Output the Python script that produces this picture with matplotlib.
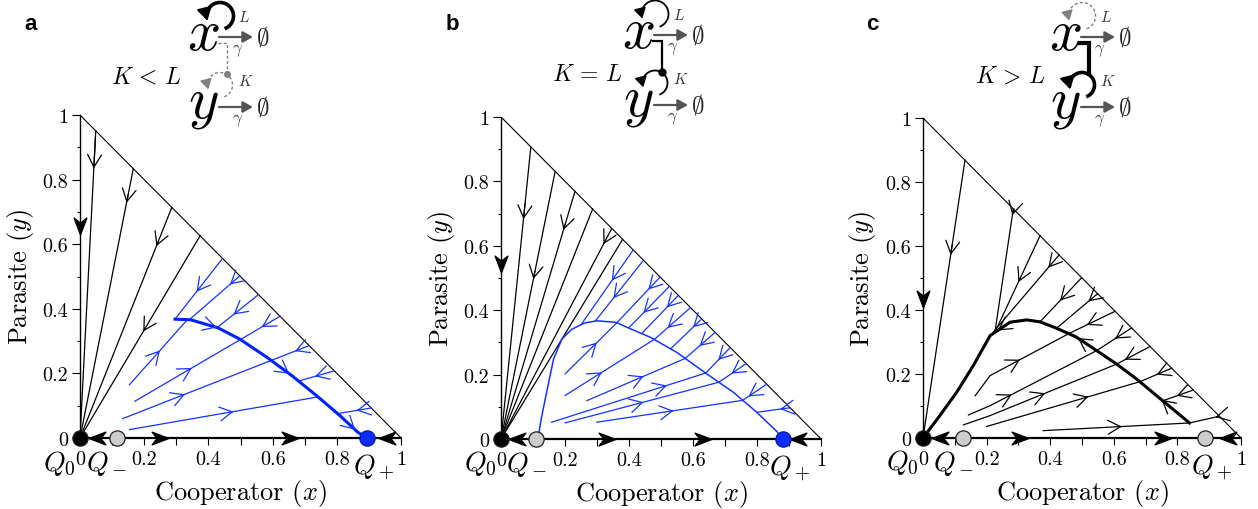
import numpy as np
import matplotlib.pyplot as plt
from matplotlib.path import Path

plt.rcParams['font.family'] = 'cmr10'
plt.rcParams['mathtext.fontset'] = 'cm'
plt.rcParams['axes.formatter.use_mathtext'] = True

# ---------------- values ----------------
tick_vals = [0, 0.2, 0.4, 0.6, 0.8, 1]
tick_labels = ['0', '0.2', '0.4', '0.6', '0.8', '1']

# fixed points on the x axis: Q0, Q-, Q+
a_fixed = [0.0, 0.115, 0.894]
b_fixed = [0.0, 0.110, 0.880]
c_fixed = [0.0, 0.127, 0.887]

# flow arrows along the x axis (position, direction) and on the y axis
a_axis_arrows = [(0.052, -1), (0.249, 1), (0.654, 1), (0.955, -1)]
b_axis_arrows = [(0.049, -1), (0.330, 1), (0.632, 1), (0.929, -1)]
c_axis_arrows = [(0.053, -1), (0.305, 1), (0.756, 1), (0.960, -1)]
a_y_arrow = 0.657
b_y_arrow = 0.543
c_y_arrow = 0.434

# panel a: black trajectories into Q0
a_black = [[(0.049, 0.951), (0, 0)], [(0.166, 0.834), (0, 0)],
           [(0.286, 0.714), (0, 0)], [(0.374, 0.626), (0, 0)]]
a_black_tips = [0.043, 0.145, 0.238, 0.197]
# panel a: blue trajectories onto the slow curve
a_blue = [[(0.444, 0.556), (0.296, 0.368)], [(0.498, 0.502), (0.340, 0.366)],
          [(0.556, 0.444), (0.426, 0.341)], [(0.623, 0.377), (0.500, 0.305)],
          [(0.714, 0.286), (0.595, 0.240)], [(0.792, 0.208), (0.680, 0.176)],
          [(0.907, 0.093), (0.800, 0.075)],
          [(0.154, 0.165), (0.334, 0.366)], [(0.171, 0.114), (0.500, 0.305)],
          [(0.133, 0.060), (0.595, 0.240)], [(0.154, 0.026), (0.740, 0.127)]]
a_blue_tips = [0.363, 0.467, 0.478, 0.566, 0.670, 0.732, 0.862,
               0.249, 0.348, 0.327, 0.478]
a_curve_x = [0.296, 0.345, 0.430, 0.498, 0.582, 0.660, 0.737, 0.810, 0.865, 0.894]
a_curve_y = [0.368, 0.366, 0.341, 0.306, 0.250, 0.193, 0.131, 0.069, 0.018, 0.0]
a_curve_tips = [0.426, 0.652, 0.857]

# panel b
b_black = [[(0.093, 0.907), (0, 0)], [(0.169, 0.831), (0, 0)],
           [(0.231, 0.769), (0, 0)], [(0.286, 0.714), (0, 0)],
           [(0.346, 0.654), (0, 0)], [(0.380, 0.620), (0, 0)]]
b_black_tips = [0.070, 0.101, 0.195, None, 0.320, None]
b_blue = [[(0.413, 0.587), (0.250, 0.355)], [(0.445, 0.555), (0.295, 0.367)],
          [(0.497, 0.503), (0.361, 0.360)], [(0.526, 0.474), (0.400, 0.346)],
          [(0.554, 0.446), (0.440, 0.328)], [(0.592, 0.408), (0.480, 0.310)],
          [(0.627, 0.373), (0.530, 0.280)], [(0.669, 0.331), (0.575, 0.250)],
          [(0.716, 0.284), (0.640, 0.205)], [(0.766, 0.234), (0.680, 0.176)],
          [(0.830, 0.170), (0.755, 0.120)], [(0.903, 0.097), (0.800, 0.083)],
          [(0.200, 0.202), (0.361, 0.360)], [(0.200, 0.135), (0.480, 0.310)],
          [(0.268, 0.119), (0.575, 0.250)], [(0.158, 0.052), (0.640, 0.205)],
          [(0.200, 0.050), (0.680, 0.176)], [(0.299, 0.052), (0.755, 0.120)]]
b_blue_tips = [0.346, 0.351, 0.460, 0.445, 0.518, 0.520, 0.600, 0.620,
               0.679, 0.720, 0.773, 0.872,
               0.299, 0.315, 0.445, 0.518, 0.445, 0.539]
b_curve_x = [0.110, 0.117, 0.125, 0.138, 0.164, 0.190, 0.220, 0.260, 0.300,
             0.360, 0.393, 0.466, 0.549, 0.643, 0.726, 0.799, 0.862, 0.880]
b_curve_y = [0.0, 0.010, 0.060, 0.124, 0.248, 0.310, 0.340, 0.360, 0.367,
             0.362, 0.347, 0.316, 0.269, 0.202, 0.145, 0.083, 0.023, 0.0]

# panel c
c_black = [[(0.132, 0.868), (0, 0)], [(0.284, 0.716), (0.226, 0.330)],
           [(0.368, 0.632), (0.226, 0.330)], [(0.428, 0.572), (0.222, 0.332)],
           [(0.499, 0.501), (0.368, 0.363)], [(0.549, 0.451), (0.420, 0.343)],
           [(0.604, 0.396), (0.458, 0.326)], [(0.656, 0.344), (0.546, 0.273)],
           [(0.714, 0.286), (0.609, 0.231)], [(0.782, 0.218), (0.682, 0.176)],
           [(0.850, 0.150), (0.756, 0.117)], [(0.932, 0.068), (0.838, 0.047)],
           [(0.164, 0.132), (0.211, 0.195), (0.458, 0.326)],
           [(0.143, 0.072), (0.211, 0.101), (0.546, 0.273)],
           [(0.127, 0.041), (0.211, 0.070), (0.609, 0.231)],
           [(0.200, 0.036), (0.682, 0.176)],
           [(0.378, 0.023), (0.838, 0.047)]]
c_black_tips = [0.087, 0.281, 0.300, 0.394, 0.431, 0.520, 0.515, 0.604,
                0.635, 0.735, 0.798, 0.920,
                0.305, 0.279, 0.384, 0.520, 0.625]
c_curve_x = [0.0, 0.053, 0.106, 0.158, 0.211, 0.274, 0.326, 0.368, 0.420,
             0.483, 0.546, 0.609, 0.672, 0.735, 0.798, 0.838]
c_curve_y = [0.0, 0.070, 0.143, 0.226, 0.320, 0.362, 0.369, 0.363, 0.343,
             0.315, 0.273, 0.231, 0.184, 0.132, 0.080, 0.047]
c_curve_tips = [0.235, 0.487, 0.750]

BLUE = '#1433ff'
DOT_BLUE = '#0b2cff'
GREY = '#cccccc'


def chevron(ax, xs, ys, xt, color, lw=0.9):
    # open arrow head at x = xt, pointing toward the last point of the line
    xs = np.asarray(xs, float)
    ys = np.asarray(ys, float)
    order = np.argsort(xs)
    sgn = np.sign(xs[-1] - xs[0])
    yt = np.interp(xt, xs[order], ys[order])
    xb = xt - sgn * 0.005
    yb = np.interp(xb, xs[order], ys[order])
    ax.annotate('', xy=(xt, yt), xytext=(xb, yb), annotation_clip=False,
                arrowprops=dict(arrowstyle='->,head_length=0.9,head_width=0.5',
                                color=color, lw=lw, shrinkA=0, shrinkB=0))


def stealth(angle):
    v = np.array([[0.5, 0], [-0.5, 0.38], [-0.2, 0], [-0.5, -0.38], [0.5, 0]])
    c, s = np.cos(np.radians(angle)), np.sin(np.radians(angle))
    v = v @ np.array([[c, s], [-s, c]])
    return Path(v, [Path.MOVETO, Path.LINETO, Path.LINETO, Path.LINETO, Path.CLOSEPOLY])


def draw_lines(ax, lines, tips, color, lw=0.9):
    for pts, xt in zip(lines, tips):
        xs, ys = zip(*pts)
        ax.plot(xs, ys, color=color, lw=lw, zorder=2)
        if xt is not None:
            chevron(ax, xs, ys, xt, color, lw)


def frame(ax, fixed, fixed_colors, axis_arrows, y_arrow):
    ax.set_xlim(0, 1)
    ax.set_ylim(0, 1)
    ax.spines['top'].set_visible(False)
    ax.spines['right'].set_visible(False)
    ax.spines['left'].set_linewidth(1.0)
    ax.spines['bottom'].set_linewidth(1.6)
    ax.plot([0, 1], [1, 0], color='k', lw=0.8, zorder=2)
    ax.set_xticks(tick_vals)
    ax.set_xticklabels(tick_labels)
    ax.set_yticks(tick_vals)
    ax.set_yticklabels(tick_labels)
    ax.set_xticks(np.arange(0.1, 1, 0.2), minor=True)
    ax.set_yticks(np.arange(0.1, 1, 0.2), minor=True)
    ax.tick_params(axis='both', which='both', direction='out', labelsize=14.5, width=0.8)
    ax.tick_params(axis='x', which='both', length=5, pad=4)
    ax.tick_params(axis='y', which='major', length=5.5, pad=3)
    ax.tick_params(axis='y', which='minor', length=2.5)
    ax.set_xlabel('Cooperator $(x)$', fontsize=19, labelpad=6)
    ax.set_ylabel('Parasite $(y)$', fontsize=19, labelpad=5)

    for xp, d in axis_arrows:
        ax.plot(xp, 0, marker=stealth(0 if d > 0 else 180), ms=12, color='k',
                clip_on=False, zorder=5)
    ax.plot(0, y_arrow, marker=stealth(-90), ms=12, color='k', clip_on=False, zorder=5)

    for xp, fc in zip(fixed, fixed_colors):
        ec = '#202020' if fc != DOT_BLUE else '#0a1a90'
        ax.plot(xp, 0, 'o', ms=11, mfc=fc, mec=ec, mew=0.9, clip_on=False, zorder=6)
    ax.text(-0.065, -0.075, '$Q_0$', fontsize=20, ha='center', va='center')
    ax.text(fixed[1] - 0.032, -0.075, '$Q_-$', fontsize=20, ha='center', va='center')
    ax.text(fixed[2] + 0.022, -0.09, '$Q_+$', fontsize=20, ha='center', va='center')


fig = plt.figure(figsize=(12.58, 5.10), dpi=100)
ax_a = fig.add_axes([0.0636, 0.1392, 0.2552, 0.6333])
ax_b = fig.add_axes([0.3983, 0.1373, 0.2544, 0.6314])
ax_c = fig.add_axes([0.7337, 0.1392, 0.2528, 0.6275])

# panel a
frame(ax_a, a_fixed, ['k', GREY, DOT_BLUE], a_axis_arrows, a_y_arrow)
draw_lines(ax_a, a_black, a_black_tips, 'k')
draw_lines(ax_a, a_blue, a_blue_tips, BLUE)
ax_a.plot(a_curve_x, a_curve_y, color='#0020ff', lw=2.2, zorder=3)
for xt in a_curve_tips:
    chevron(ax_a, a_curve_x, a_curve_y, xt, BLUE)

# panel b
frame(ax_b, b_fixed, ['k', GREY, DOT_BLUE], b_axis_arrows, b_y_arrow)
draw_lines(ax_b, b_black, b_black_tips, 'k')
draw_lines(ax_b, b_blue, b_blue_tips, BLUE)
ax_b.plot(b_curve_x, b_curve_y, color=BLUE, lw=1.1, zorder=3)

# panel c
frame(ax_c, c_fixed, ['k', GREY, GREY], c_axis_arrows, c_y_arrow)
draw_lines(ax_c, c_black, c_black_tips, 'k')
ax_c.plot(c_curve_x, c_curve_y, color='k', lw=2.2, zorder=3)
for xt in c_curve_tips:
    chevron(ax_c, c_curve_x[::-1], c_curve_y[::-1], xt, 'k')

# ---------------- network sketches above the panels (pixel coordinates) ----------------
ov = fig.add_axes([0, 0, 1, 1])
ov.set_xlim(0, 1258)
ov.set_ylim(510, 0)
ov.axis('off')


def loop(cx, cy, r, style):
    th = np.radians(np.linspace(-70, 200, 90))
    px = cx + r * np.cos(th)
    py = cy - r * np.sin(th)
    if style == 'thick':
        color, lw, ls, ms = 'k', 2.6, '-', 15
    elif style == 'thin':
        color, lw, ls, ms = 'k', 1.3, '-', 12
    else:
        color, lw, ls, ms = '#808080', 1.0, (0, (2.2, 1.6)), 12
    ov.plot(px[:-4], py[:-4], color=color, lw=lw, ls=ls, solid_capstyle='butt')
    ov.annotate('', xy=(px[-1], py[-1]), xytext=(px[-5], py[-5]),
                arrowprops=dict(arrowstyle='-|>,head_length=0.5,head_width=0.3',
                                color=color, lw=min(lw, 1.5), shrinkA=0, shrinkB=0,
                                mutation_scale=ms))


def sketch(cx, cy, x_loop, y_loop, link, cond, cond_x, letter, letter_x):
    yy = cy + 70
    ov.text(cx, cy, '$x$', fontsize=42, ha='center', va='center')
    ov.text(cx, yy, '$y$', fontsize=42, ha='center', va='center')
    for row in (cy, yy):
        ov.annotate('', xy=(cx + 50, row + 3), xytext=(cx + 16, row + 3),
                    arrowprops=dict(arrowstyle='-|>,head_length=0.5,head_width=0.28',
                                    color='#555555', lw=1.6, shrinkA=0, shrinkB=0,
                                    mutation_scale=12))
        ov.text(cx + 60, row + 2, r'$\emptyset$', fontsize=18, ha='center', va='center',
                color='#222222')
        ov.text(cx + 35, row + 16, r'$\gamma$', fontsize=12, ha='center', va='center',
                color='#444444')
    loop(cx + 17, cy - 18, 13.5, x_loop)
    loop(cx + 17, yy - 19, 12.5, y_loop)
    ov.text(cx + 41, cy - 18, '$L$', fontsize=11, ha='center', va='center', color='#333333')
    ov.text(cx + 43, yy - 23, '$K$', fontsize=11, ha='center', va='center', color='#333333')

    lx = cx + 23.5
    if link == 'dashed':
        lc, llw, lls = '#808080', 1.0, (0, (2.2, 1.6))
    elif link == 'thin':
        lc, llw, lls = 'k', 1.6, '-'
    else:
        lc, llw, lls = 'k', 3.0, '-'
    ov.plot([cx + 15, lx, lx], [cy + 9, cy + 9, yy - 30], color=lc, lw=llw, ls=lls,
            solid_joinstyle='miter')
    if link == 'dashed':
        ov.plot(lx, yy - 30, 'o', ms=4, color='#808080')
    elif link == 'thin':
        ov.plot(lx, yy - 30, 'o', ms=5, color='k')

    ov.text(cond_x, cy + 42, cond, fontsize=17, ha='center', va='center')
    ov.text(letter_x, 24, letter, fontsize=16, fontweight='bold',
            family='Liberation Sans', ha='center', va='center')


sketch(203, 35, 'thick', 'dashed', 'dashed', r'$K\,<\,L$', 146, 'a', 31)
sketch(638, 33, 'thin', 'thin', 'thin', r'$K\,=\,L$', 587, 'b', 452)
sketch(1065, 35, 'dashed', 'thick', 'thick', r'$K\,>\,L$', 1010, 'c', 872)

fig.savefig('out.png', dpi=100)
